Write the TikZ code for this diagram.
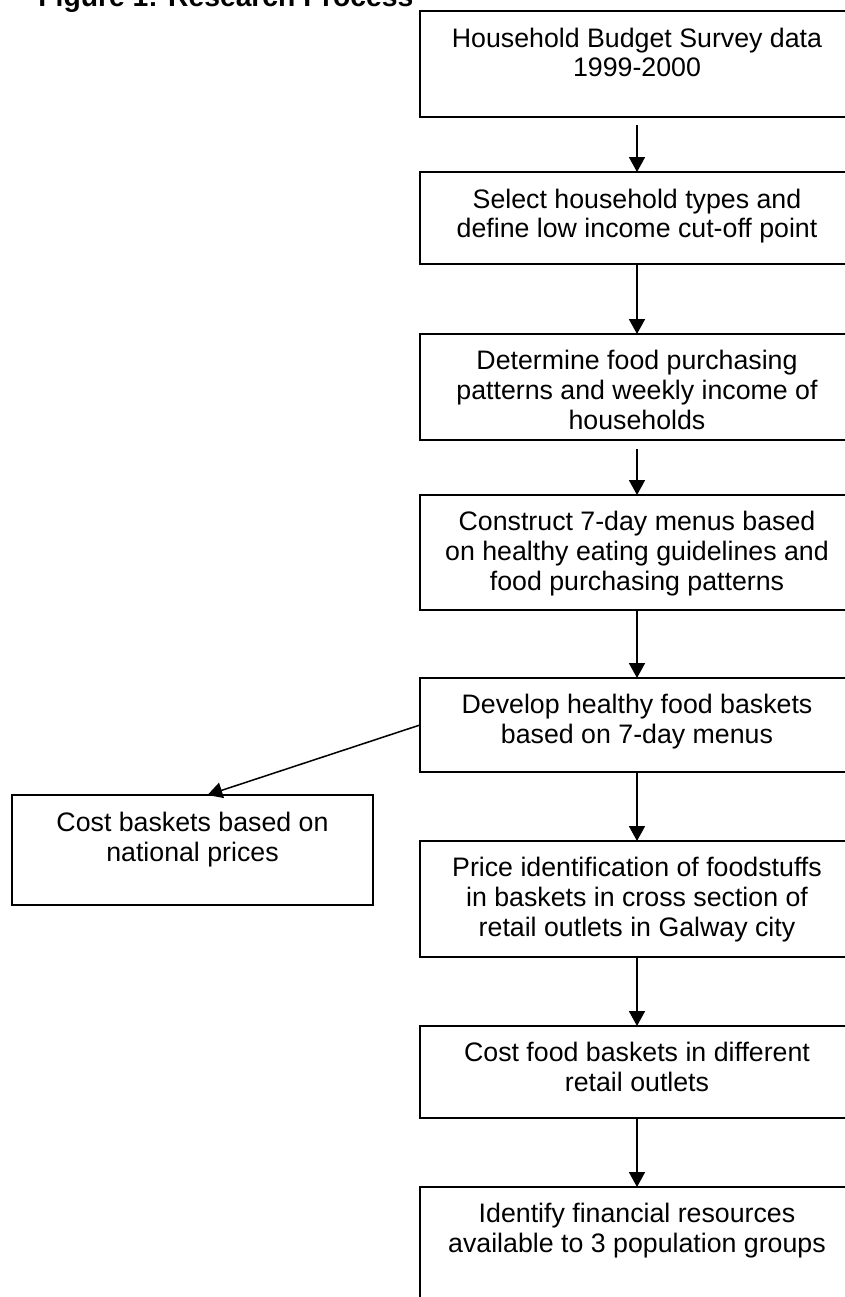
\documentclass[tikz,border=0pt]{standalone}
\usepackage{fontspec}
\setmainfont{Liberation Sans}
\usetikzlibrary{positioning, arrows.meta}
\newcommand{\stagebox}[3]{\parbox[t][#1][t]{#2}{\centering\strut #3}}

\begin{document}
\begin{tikzpicture}[x=0.46pt, y=-0.46pt,
    stage/.style={draw, line width=0.7pt, inner xsep=0pt, inner ysep=6.9pt, outer sep=0pt,
                  font=\fontsize{12.3}{13.8}\selectfont},
    flow/.style={-{Triangle[length=6.8pt, width=7.3pt]}, line width=0.7pt}]
  \clip (0,0) rectangle (845,1297);
  \node[anchor=base west, inner sep=0pt, font=\fontsize{13}{15}\selectfont\bfseries] (title) at (38,7) {Figure 1: Research Process};

  \node[stage, anchor=north] (hbs) at (637,11) {\stagebox{34.96pt}{199.64pt}{Household Budget Survey data\\1999-2000}};
  \node[stage, below=25.3pt of hbs] (types) {\stagebox{28.52pt}{199.64pt}{Select household types and\\define low income cut-off point}};
  \node[stage, below=32.2pt of types] (patterns) {\stagebox{34.96pt}{199.64pt}{Determine food purchasing\\patterns and weekly income of\\households}};
  \node[stage, below=25.3pt of patterns] (menus) {\stagebox{39.1pt}{199.64pt}{Construct 7-day menus based\\on healthy eating guidelines and\\food purchasing patterns}};
  \node[stage, below=31.28pt of menus] (baskets) {\stagebox{29.44pt}{199.64pt}{Develop healthy food baskets\\based on 7-day menus}};
  \node[stage, below=31.74pt of baskets] (prices) {\stagebox{39.56pt}{199.64pt}{Price identification of foodstuffs\\in baskets in cross section of\\retail outlets in Galway city}};
  \node[stage, below=31.74pt of prices] (outlets) {\stagebox{28.52pt}{199.64pt}{Cost food baskets in different\\retail outlets}};
  \node[stage, below=31.74pt of outlets] (resources) {\stagebox{46pt}{199.64pt}{Identify financial resources\\available to 3 population groups}};
  \node[stage, anchor=north west] (natl) at (12,795) {\stagebox{36.8pt}{166.06pt}{Cost baskets based on\\national prices}};

  \draw[flow] ([yshift=-3.7pt]hbs.south) -- (types);
  \draw[flow] (types) -- (patterns);
  \draw[flow] ([yshift=-4.1pt]patterns.south) -- (menus);
  \draw[flow] (menus) -- (baskets);
  \draw[flow] (baskets) -- (prices);
  \draw[flow] (prices) -- (outlets);
  \draw[flow] (outlets) -- (resources);
  \draw[flow] (baskets.west) -- ([xshift=6.9pt]natl.north);
\end{tikzpicture}
\end{document}
